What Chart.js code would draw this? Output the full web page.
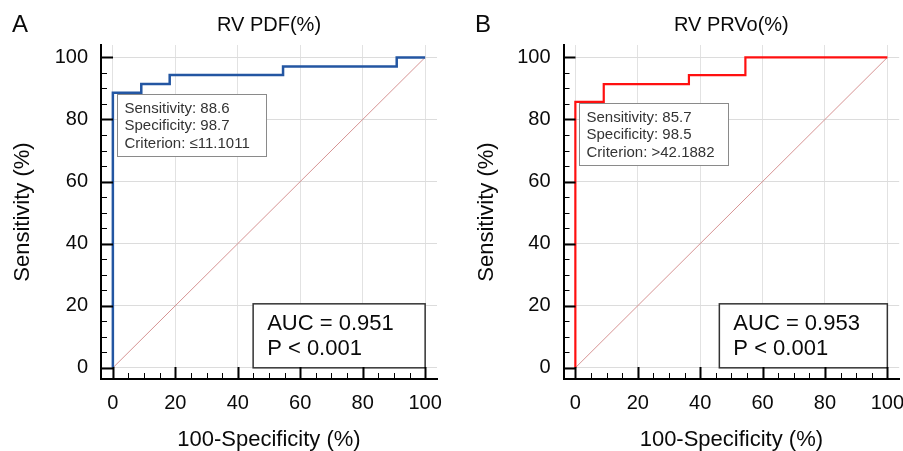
<!DOCTYPE html>
<html>
<head>
<meta charset="utf-8">
<script src="https://cdn.jsdelivr.net/npm/chart.js@4"></script>
<style>
html, body { margin: 0; padding: 0; background: #fff; }
body { width: 903px; height: 451px; position: relative; overflow: hidden; }
.panel { position: absolute; top: 0; height: 451px; }
</style>
</head>
<body>
<div class="panel" style="left:0;width:450px"><canvas id="rocA" width="450" height="451"></canvas></div>
<div class="panel" style="left:450px;width:453px"><canvas id="rocB" width="453" height="451"></canvas></div>
<script>
const TICKS = [0, 20, 40, 60, 80, 100];
const MINOR_STEP = 5;
const refX = [0, 100];
const refY = [0, 100];

// panel A: RV PDF(%)
const fprA = [0, 0, 9.1, 18.2, 54.5, 90.9, 100];
const tprA = [0, 88.6, 91.4, 94.3, 97.1, 100, 100];
const statsA = ["Sensitivity: 88.6", "Specificity: 98.7", "Criterion: \u226411.1011"];
const aucA = ["AUC = 0.951", "P < 0.001"];

// panel B: RV PRVo(%)
const fprB = [0, 0, 9.1, 36.4, 54.5, 100];
const tprB = [0, 85.7, 91.4, 94.3, 100, 100];
const statsB = ["Sensitivity: 85.7", "Specificity: 98.5", "Criterion: >42.1882"];
const aucB = ["AUC = 0.953", "P < 0.001"];

const FONT = '"Liberation Sans", Arial, Helvetica, sans-serif';
Chart.defaults.font.family = FONT;
Chart.defaults.color = "#0a0a0a";

const toPts = (xs, ys) => xs.map((x, i) => ({ x, y: ys[i] }));

function noLabelPadding(s) {
  s.paddingLeft = 0;
  s.paddingRight = 0;
  s.paddingTop = 0;
  s.paddingBottom = 0;
}

function panelDecor(p) {
  return {
    id: "panelDecor",
    beforeDatasetsDraw(chart) {
      const { ctx, scales: { x, y } } = chart;
      ctx.save();
      // cut-off box under the optimal point
      ctx.font = `15px ${FONT}`;
      const bx = Math.round(x.getPixelForValue(0)) + 4.5;
      const by = Math.round(y.getPixelForValue(p.sens)) + 1.5;
      ctx.fillStyle = "#fff";
      ctx.fillRect(bx, by, p.statsW, 62);
      ctx.strokeStyle = "#8a8a8a";
      ctx.lineWidth = 1;
      ctx.strokeRect(bx, by, p.statsW, 62);
      ctx.fillStyle = "#333";
      ctx.textBaseline = "middle";
      p.stats.forEach((s, i) => ctx.fillText(s, bx + 7, by + 14 + i * 17.7));

      // AUC box at bottom right
      const ax1 = x.getPixelForValue(100), ay1 = y.getPixelForValue(0);
      const ax0 = ax1 - p.aucW, ay0 = ay1 - 64;
      ctx.fillStyle = "#fff";
      ctx.fillRect(ax0, ay0, p.aucW, 64);
      ctx.strokeStyle = "#333";
      ctx.lineWidth = 1.5;
      ctx.strokeRect(ax0, ay0, p.aucW, 64);
      ctx.fillStyle = "#0a0a0a";
      ctx.font = `22px ${FONT}`;
      p.auc.forEach((s, i) => ctx.fillText(s, ax0 + 14, ay0 + 20 + i * 25));
      ctx.restore();
    },
    afterDraw(chart) {
      const { ctx, chartArea, scales: { x, y } } = chart;
      ctx.save();
      ctx.strokeStyle = "#000";
      for (let v = 0; v <= 100; v += MINOR_STEP) {
        const major = v % 20 === 0;
        const len = major ? 12 : 6;
        ctx.lineWidth = major ? 2 : 1;
        const py = Math.round(y.getPixelForValue(v)) + 0.5;
        ctx.beginPath();
        ctx.moveTo(chartArea.left, py);
        ctx.lineTo(chartArea.left + len, py);
        ctx.stroke();
        const px = Math.round(x.getPixelForValue(v)) + 0.5;
        ctx.beginPath();
        ctx.moveTo(px, chartArea.bottom);
        ctx.lineTo(px, chartArea.bottom - len);
        ctx.stroke();
      }
      ctx.fillStyle = "#0a0a0a";
      ctx.font = `24px ${FONT}`;
      ctx.textAlign = "center";
      ctx.textBaseline = "middle";
      ctx.fillText(p.letter, p.letterX, 25);
      ctx.restore();
    }
  };
}

function makeRoc(id, p) {
  return new Chart(document.getElementById(id), {
    type: "scatter",
    data: {
      datasets: [
        {
          data: toPts(p.fpr, p.tpr),
          showLine: true,
          stepped: "before",
          borderColor: p.color,
          borderWidth: p.lineWidth,
          pointRadius: 0,
          clip: false
        },
        {
          data: toPts(refX, refY),
          showLine: true,
          borderColor: "#d69393",
          borderWidth: 1,
          pointRadius: 0
        }
      ]
    },
    options: {
      responsive: false,
      animation: false,
      events: [],
      layout: { padding: { left: 0, right: p.padRight, top: 0, bottom: 0 } },
      plugins: {
        legend: { display: false },
        tooltip: { enabled: false },
        title: {
          display: true,
          text: p.title,
          fullSize: false,
          color: "#0a0a0a",
          font: { size: 20, weight: "normal" },
          padding: { top: 13, bottom: 8 }
        }
      },
      scales: {
        x: {
          type: "linear",
          min: -3.8,
          max: 103.8,
          afterBuildTicks: (s) => { s.ticks = TICKS.map(v => ({ value: v })); },
          afterFit: (s) => { s.height = 72; noLabelPadding(s); },
          grid: { color: "#e2e2e2", drawTicks: false },
          border: { color: "#000", width: 2 },
          ticks: { font: { size: 20 }, color: "#0a0a0a", padding: 12, maxRotation: 0 },
          title: {
            display: true,
            text: "100-Specificity (%)",
            color: "#0a0a0a",
            font: { size: 22 },
            padding: { top: 0, bottom: -2 }
          }
        },
        y: {
          type: "linear",
          min: -3.6,
          max: 104,
          afterBuildTicks: (s) => { s.ticks = TICKS.map(v => ({ value: v })); },
          afterFit: (s) => { s.width = p.yWidth; noLabelPadding(s); },
          grid: { color: "#dcdcdc", drawTicks: false },
          border: { color: "#000", width: 2 },
          ticks: { font: { size: 20 }, color: "#0a0a0a", padding: 13 },
          title: {
            display: true,
            text: "Sensitivity (%)",
            color: "#0a0a0a",
            font: { size: 22 },
            padding: { top: p.yTitlePad, bottom: 0 }
          }
        }
      }
    },
    plugins: [panelDecor(p)]
  });
}

makeRoc("rocA", {
  fpr: fprA, tpr: tprA, sens: tprA[1], stats: statsA, auc: aucA,
  title: "RV PDF(%)", letter: "A", letterX: 20,
  color: "#2356a2", lineWidth: 2.5,
  yWidth: 101, yTitlePad: 10, padRight: 13, statsW: 149, aucW: 172
});

makeRoc("rocB", {
  fpr: fprB, tpr: tprB, sens: tprB[1], stats: statsB, auc: aucB,
  title: "RV PRVo(%)", letter: "B", letterX: 33,
  color: "#ff1010", lineWidth: 2.2,
  yWidth: 113.5, yTitlePad: 24, padRight: 3.8, statsW: 149, aucW: 168
});
</script>
</body>
</html>
